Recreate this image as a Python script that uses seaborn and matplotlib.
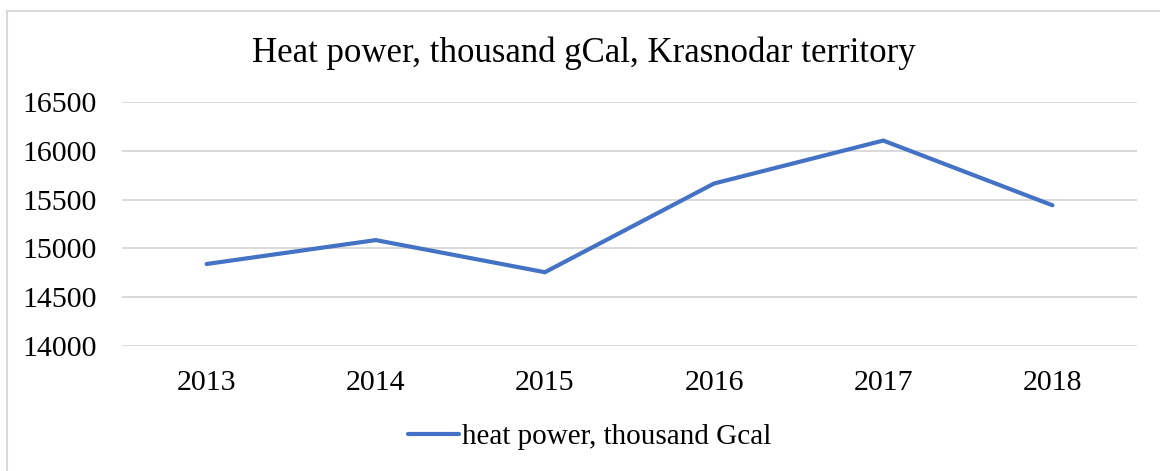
import pandas as pd
import matplotlib.pyplot as plt
import seaborn as sns
from matplotlib.lines import Line2D

sns.set_style("white")
plt.rcParams['font.family'] = ['Liberation Serif', 'DejaVu Serif']

# Datos
years = ['2013', '2014', '2015', '2016', '2017', '2018']
heat_power = [14840, 15085, 14756, 15665, 16105, 15442]
y_ticks = [14000, 14500, 15000, 15500, 16000, 16500]

LINE_COLOR = "#4472C4"
GRID_COLOR = "#D9D9D9"

df = pd.DataFrame({'Year': years, 'Heat': heat_power})

W, H = 1160, 471
fig = plt.figure(figsize=(W / 100, H / 100), dpi=100)
ax = fig.add_axes([122 / W, 1 - 346 / H, (1137 - 122) / W, (346 - 102) / H])

sns.lineplot(data=df, x='Year', y='Heat', ax=ax, color=LINE_COLOR,
             linewidth=3.0, sort=False, label='heat power, thousand Gcal',
             solid_capstyle='round', solid_joinstyle='miter')

ax.set_xlim(-0.5, 5.5)
ax.set_ylim(14000, 16500)
ax.set_yticks(y_ticks)
ax.set_yticklabels([str(v) for v in y_ticks])
ax.grid(axis='y', color=GRID_COLOR, linewidth=1.4)
ax.set_axisbelow(True)
for s in ax.spines.values():
    s.set_visible(False)
ax.tick_params(axis='both', length=0, labelsize=21.5, colors='black')
ax.tick_params(axis='y', pad=18)
ax.tick_params(axis='x', pad=17)
ax.set_xlabel('')
ax.set_ylabel('')

ax.legend_.remove()
fig.text(0.5 * (250 + 918) / W, 1 - 53 / H,
         "Heat power, thousand gCal, Krasnodar territory",
         ha='center', va='center', fontsize=25, color='black')

handle = Line2D([0], [0], color=LINE_COLOR, linewidth=3.0, solid_capstyle='round')
fig.legend([handle], ['heat power, thousand Gcal'], loc='center',
           bbox_to_anchor=(590 / W, 1 - 437 / H), frameon=False,
           fontsize=21, handlelength=1.75, handletextpad=0.1,
           labelcolor='black')

# Borde del área del gráfico (solo izquierda y arriba visibles)
fig.add_artist(Line2D([7 / W, 7 / W], [0, 1 - 11 / H], color=GRID_COLOR,
                      linewidth=1.5, transform=fig.transFigure))
fig.add_artist(Line2D([7 / W, 1], [1 - 11 / H, 1 - 11 / H], color=GRID_COLOR,
                      linewidth=1.5, transform=fig.transFigure))

fig.savefig("out.png", dpi=100, facecolor='white')
